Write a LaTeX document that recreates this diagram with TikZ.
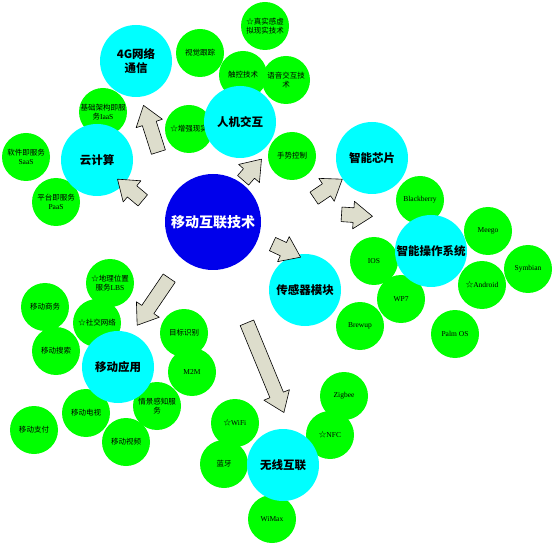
\documentclass[tikz,border=0pt]{standalone}
\usepackage{fontspec}
\setmainfont{Liberation Serif}
\newfontfamily\cjk{Noto Sans CJK SC}
\usetikzlibrary{shapes.arrows}

\definecolor{leafgreen}{RGB}{0,255,0}
\definecolor{hubcyan}{RGB}{0,255,255}
\definecolor{coreblue}{RGB}{0,0,235}
\definecolor{arrowgray}{RGB}{221,221,204}

\begin{document}
\begin{tikzpicture}[x=1pt, y=-1pt, line join=round,
    leaf/.style={circle, fill=leafgreen, minimum size=48pt, inner sep=0pt, align=center, font=\fontsize{7.5}{8.5}\selectfont},
    hub/.style={circle, fill=hubcyan, minimum size=72pt, inner sep=0pt, align=center, font=\cjk\fontsize{11.5}{14}\selectfont\bfseries},
    core/.style={circle, fill=coreblue, minimum size=96pt, inner sep=0pt, text=white, font=\cjk\fontsize{14}{16}\selectfont\bfseries},
    fatarrow/.style={single arrow, draw=black, fill=arrowgray, line width=0.6pt, inner xsep=0pt, inner ysep=7pt,
      single arrow head extend=6.5pt, single arrow tip angle=72}]
    \useasboundingbox (0,0) rectangle (554,545);

    % leaves
    \node[leaf] (vr)     at (265,26)  {{\cjk ☆真实感虚}\\{\cjk 拟现实技术}};
    \node[leaf] (track)  at (200,53)  {\cjk 视觉跟踪};
    \node[leaf] (touch)  at (243,75)  {\cjk 触控技术};
    \node[leaf] (voice)  at (286,80)  {{\cjk 语音交互技}\\{\cjk 术}};
    \node[leaf] (ar)     at (189,129) {\cjk ☆增强现实};
    \node[leaf] (gest)   at (292,156) {\cjk 手势控制};
    \node[leaf] (iaas)   at (103,112) {{\cjk 基础架构即服}\\{\cjk 务}IaaS};
    \node[leaf] (saas)   at (26,157)  {{\cjk 软件即服务}\\SaaS};
    \node[leaf] (paas)   at (56,202)  {{\cjk 平台即服务}\\PaaS};
    \node[leaf] (lbs)    at (110,283) {{\cjk ☆地理位置}\\{\cjk 服务}LBS};
    \node[leaf] (shop)   at (45,307)  {\cjk 移动商务};
    \node[leaf] (social) at (97,323)  {\cjk ☆社交网络};
    \node[leaf] (search) at (56,351)  {\cjk 移动搜索};
    \node[leaf] (target) at (184,333) {\cjk 目标识别};
    \node[leaf] (mtom)   at (192,372) {M2M};
    \node[leaf] (ctx)    at (157,406) {{\cjk 情景感知服}\\{\cjk 务}};
    \node[leaf] (tv)     at (86,413)  {\cjk 移动电视};
    \node[leaf] (pay)    at (34,430)  {\cjk 移动支付};
    \node[leaf] (video)  at (126,442) {\cjk 移动视频};
    \node[leaf] (wifi)   at (235,423) {{\cjk ☆}WiFi};
    \node[leaf] (bt)     at (224,464) {\cjk 蓝牙};
    \node[leaf] (wimax)  at (272,519) {WiMax};
    \node[leaf] (zigbee) at (344,396) {Zigbee};
    \node[leaf] (nfc)    at (330,435) {{\cjk ☆}NFC};
    \node[leaf] (bb)     at (420,200) {Blackberry};
    \node[leaf] (meego)  at (488,231) {Meego};
    \node[leaf] (ios)    at (374,261) {IOS};
    \node[leaf] (symb)   at (528,269) {Symbian};
    \node[leaf] (andr)   at (482,285) {{\cjk ☆}Android};
    \node[leaf] (wp)     at (401,299) {WP7};
    \node[leaf] (brew)   at (360,326) {Brewup};
    \node[leaf] (palm)   at (455,334) {Palm OS};

    % hubs
    \node[hub] (net)    at (136,61)  {4G{\cjk 网络}\\{\cjk 通信}};
    \node[hub] (cloud)  at (97,160)  {云计算};
    \node[hub] (hci)    at (240,122) {人机交互};
    \node[hub] (chip)   at (372,158) {智能芯片};
    \node[hub] (os)     at (431,251) {智能操作系统};
    \node[hub] (sensor) at (305,290) {传感器模块};
    \node[hub] (app)    at (118,367) {移动应用};
    \node[hub] (wless)  at (283,465) {无线互联};

    \node[core] (core) at (213,222) {移动互联技术};

    % arrows: name/x/y/angle/length
    \foreach \n/\x/\y/\a/\l in {a1/152.5/133.5/107.7/49, a2/134/193/140/33, a3/249/173.5/49/28,
        a4/324/191.5/34/34, a5/352/215/-3.7/31, a6/282/248.5/-25/31,
        a7/156/297.5/235.8/57, a8/263.5/363/-67.6/97}
      \node[fatarrow, minimum height=\l pt, rotate=\a] (\n) at (\x,\y) {};
  \end{tikzpicture}
\end{document}
